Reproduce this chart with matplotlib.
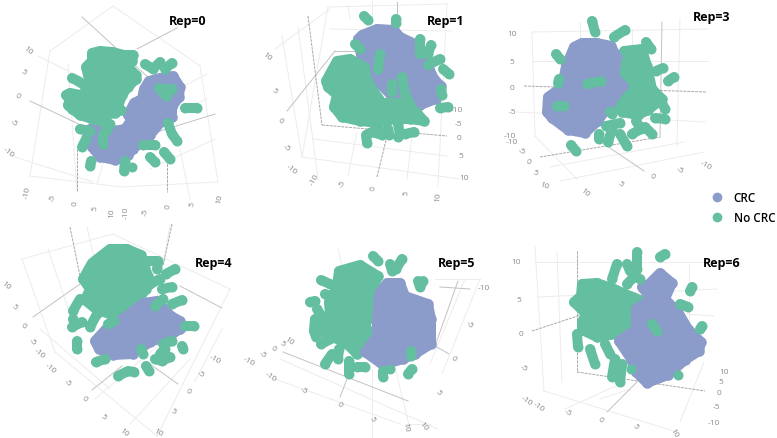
import matplotlib
matplotlib.use('Agg')
import matplotlib.pyplot as plt

CRC_COL = '#8c9cca'
NO_COL = '#64bfa0'
LIGHT = '#ececec'
DARK = '#c2c2c2'
DASH = '#a8a8a8'
TICK = '#8a8a8a'

# all positions, in picture pixels
rep0_crc = [(160,79),(173,77),(180,88),(179,98),(172,108),(172,118),(162,122),(150,136),(133,150),(128,156),(115,161),(100,158),(92,148),(87,138),(90,130),(103,130),(113,132),(125,130),(132,120),(128,116),(134,104),(142,100),(144,90),(149,82)]
rep0_no = [(92,54),(100,52),(112,53),(124,56),(133,56),(132,62),(128,68),(136,76),(136,80),(128,88),(122,96),(118,108),(121,111),(115,114),(106,116),(104,123),(92,120),(80,116),(72,110),(68,106),(70,100),(66,96),(70,94),(80,96),(88,92),(90,84),(88,76),(86,68),(92,62)]
rep0_strays = [[(72,79),(78,82),(84,86),(89,88)],[(145,65),(153,70),(160,63)],[(165,70),(172,64)],[(159,89),(166,97),(172,90),(166,90)],[(185,109),(197,109)],[(168,124),(172,135),(177,142)],[(143,146),(155,146)],[(164,153),(170,160)],[(150,158),(155,163)],[(103,135),(103,145)],[(80,130),(90,132)],[(82,148),(86,140)],[(91,162),(90,167)],[(125,162),(124,172)],[(132,168)],[(110,125),(106,132)]]
rep0_grid = [(50,52,113,7),(113,7,200,67),(50,52,30,177),(30,177,122,188),(122,188,217,183),(200,67,218,183),(68,65,77,192),(38,57,80,78),(12,157,93,183),(207,75,178,90),(207,100,182,110),(215,140,150,170),(97,185,112,135),(190,200,180,150)]
rep0_dark = [(82,18,150,80),(30,102,83,127),(137,50,177,29),(157,133,215,115)]
rep0_dash = [(77,150,77,192),(167,153,167,193)]
rep0_ticks = [('10',28,51,-40),('5',23,72,-40),('0',17,96,-40),('-5',13,123,-40),('-10',8,153,-40),('-10',27,193,80),('-5',53,198,80),('0',75,204,85),('5',95,209,85),('10',112,213,88),('-10',126,213,90),('-5',145,212,85),('0',168,207,85),('5',192,204,80),('10',220,199,80)]

rep1_crc = [(362,36),(377,30),(394,31),(400,38),(415,45),(425,60),(434,80),(441,87),(436,100),(420,106),(406,105),(390,95),(375,80),(362,62),(358,40)]
rep1_no = [(326,82),(337,62),(350,60),(364,68),(368,84),(382,104),(405,104),(417,114),(424,122),(410,120),(395,120),(378,124),(360,122),(342,118),(334,108),(337,96),(328,88)]
rep1_strays = [[(364,17),(368,21)],[(396,20),(396,24)],[(355,45),(360,50)],[(380,55),(378,70)],[(420,40),(420,55)],[(431,46),(428,55)],[(428,66),(440,60)],[(443,70),(449,75)],[(441,90),(442,96)],[(440,109),(448,108)],[(392,85),(392,93)],[(402,78),(405,95),(410,105)],[(367,144),(366,136),(372,133),(382,136)],[(388,130),(389,136)],[(398,125),(400,135),(398,138)],[(405,135),(414,133)],[(375,125),(378,128)]]
rep1_grid = [(328,8,447,5),(328,8,302,158),(302,158,460,180),(282,37,302,158),(313,140,447,157),(275,50,330,10),(330,30,452,32),(372,2,372,20),(348,7,350,20),(447,5,438,187),(298,28,318,180),(407,180,412,137),(348,177,357,133)]
rep1_dark = [(335,52,367,52),(287,112,335,52),(397,3,397,23)]
rep1_dash = [(308,17,322,126),(322,126,447,137),(377,178,387,137)]
rep1_ticks = [('10',267,57,-40),('5',274,91,-40),('0',280,121,-40),('-5',286,148,-40),('-10',291,170,-40),('-10',314,180,60),('-5',343,184,70),('0',374,188,80),('5',406,193,80),('10',438,197,85),('-10',457,111,0),('-5',458,124,0),('0',459,139,0),('5',461,157,0),('10',464,178,0)]

rep3_crc = [(574,48),(582,44),(597,44),(611,47),(617,58),(614,77),(623,87),(611,103),(598,122),(585,134),(568,131),(552,119),(547,113),(548,98),(562,88),(566,67)]
rep3_no = [(624,52),(642,50),(647,67),(652,90),(662,100),(648,111),(638,116),(622,113),(616,107),(622,87),(619,77)]
rep3_strays = [[(592,22),(595,33)],[(614,38),(625,31)],[(646,43),(651,50)],[(656,72),(663,69)],[(668,82),(674,78)],[(556,55),(560,60)],[(559,80),(558,84)],[(587,85),(601,82)],[(557,107),(564,107)],[(610,113),(612,115)],[(655,119),(665,120)],[(660,100),(665,110)],[(636,122),(641,130),(632,135)],[(645,128),(652,135)],[(599,135),(599,140)],[(606,127),(620,124)],[(612,130),(608,143)],[(620,135),(627,147)],[(571,146),(576,152)]]
rep3_grid = [(532,33,708,30),(532,62,708,62),(580,23,580,40),(632,30,632,47),(680,20,677,147),(517,113,705,123),(532,33,535,137),(535,137,577,180),(560,182,704,153),(550,168,684,143)]
rep3_dark = [(662,23,660,138),(607,147,644,172)]
rep3_dash = [(524,87,707,93),(540,158,660,138)]
rep3_ticks = [('10',512,35,0),('5',512,62,0),('0',512,88,0),('-5',512,113,0),('-10',510,137,0),('-10',512,143,0),('-5',522,152,-20),('0',528,162,-20),('5',535,173,-20),('10',544,186,-20),('10',585,193,-40),('5',620,184,-40),('0',652,177,-30),('-5',680,171,-30),('-10',706,166,-30)]

rep4_crc = [(95,342),(107,329),(127,317),(143,304),(157,302),(171,317),(180,322),(180,330),(171,336),(150,343),(133,355),(113,356),(99,350)]
rep4_no = [(83,280),(92,264),(110,250),(127,250),(141,256),(148,277),(146,290),(138,301),(123,313),(110,315),(97,311),(85,301),(90,290)]
rep4_strays = [[(148,262),(158,262),(157,270)],[(166,275),(175,270)],[(150,285),(160,280)],[(162,290),(172,288)],[(172,305),(182,301)],[(155,307),(163,300)],[(185,327),(194,327)],[(182,347),(183,350)],[(108,325),(114,322)],[(72,328),(82,323)],[(75,325),(73,320)],[(80,300),(73,312)],[(90,328),(97,315)],[(77,342),(77,350)],[(96,363),(105,360)],[(118,377),(128,372),(134,373)],[(146,367),(149,372)],[(155,360),(162,362),(170,358)],[(163,345),(172,342)],[(141,350),(143,355)],[(160,355),(165,350)]]
rep4_grid = [(113,235,22,260),(113,235,230,290),(22,260,55,353),(55,353,157,437),(157,437,230,290),(48,250,80,345),(87,228,115,350),(170,226,150,340),(195,382,222,330),(130,425,190,360),(95,400,160,345),(40,330,110,390)]
rep4_dark = [(33,318,80,285),(180,287,222,309),(92,391,122,367),(147,363,178,385)]
rep4_dash = [(70,228,80,277),(172,225,163,267)]
rep4_ticks = [('10',6,286,-40),('5',14,307,-40),('0',23,326,-40),('-5',32,342,-40),('-10',39,354,-40),('-10',50,369,-40),('-5',67,383,-40),('0',84,399,-40),('5',103,417,-40),('10',124,433,-40),('10',158,433,-30),('5',173,412,-30),('0',188,392,-30),('-5',201,375,-30),('-10',215,360,-30),('-10',249,362,-30)]

rep5_crc = [(379,295),(387,284),(400,284),(405,297),(428,305),(431,320),(431,345),(415,355),(403,360),(383,366),(365,353),(377,337),(377,320)]
rep5_no = [(339,272),(360,266),(378,277),(371,297),(370,317),(365,327),(373,337),(365,345),(357,355),(347,345),(327,335),(314,331),(315,320),(330,317),(329,303),(337,287)]
rep5_strays = [[(373,257),(378,262)],[(390,265),(392,272)],[(402,260),(396,270)],[(418,282),(420,288),(423,282)],[(321,281),(330,285)],[(310,303),(315,302)],[(325,295),(332,298)],[(317,310),(322,318)],[(314,332),(316,338)],[(321,345),(335,338)],[(325,365),(332,355)],[(338,360),(339,350)],[(349,362),(349,375)],[(357,368),(365,368)],[(383,372),(383,378)],[(390,370)],[(408,375),(412,370)],[(411,357),(411,352)]]
rep5_grid = [(338,250,350,300),(280,360,438,430),(275,380,400,425),(435,280,480,280),(480,280,442,375),(395,368,410,430),(372,370,372,440),(465,280,430,365),(405,425,430,425)]
rep5_dark = [(283,353,408,402),(458,282,435,347),(435,347,449,355),(340,398,347,380),(440,288,470,290)]
rep5_dash = []
rep5_ticks = [('-10',271,377,-35),('-5',263,355,-35),('0',273,349,-35),('5',282,344,-35),('10',289,341,-35),('-5',304,391,-35),('0',339,405,-50),('5',372,419,-60),('10',406,427,-80),('10',423,427,-50),('5',438,393,-50),('0',453,359,-50),('-5',469,325,-50),('-10',484,289,0)]

rep6_crc = [(649,285),(660,274),(672,284),(665,300),(678,313),(688,330),(701,343),(699,352),(685,361),(668,376),(647,384),(636,373),(631,360),(619,342),(636,330),(636,310),(651,300),(642,288)]
rep6_no = [(582,285),(597,284),(614,290),(630,297),(643,302),(632,310),(632,323),(617,335),(597,338),(582,331),(582,323),(586,315),(574,303),(581,297)]
rep6_strays = [[(637,253),(637,270)],[(660,258),(665,255)],[(627,265),(630,272)],[(617,265),(612,280)],[(627,285),(635,277),(640,280)],[(690,292),(692,288)],[(680,305),(688,308)],[(700,330),(702,327)],[(652,325),(657,332)],[(577,335),(578,348)],[(590,350),(595,365)],[(605,345),(610,355)],[(615,360),(612,378)],[(622,365),(620,383)],[(631,370)],[(678,376)]]
rep6_grid = [(535,248,544,392),(535,263,717,263),(717,290,537,298),(714,317,660,313),(544,392,677,433),(704,363,680,423),(557,253,562,383),(689,265,689,367),(600,400,630,390),(565,410,620,385)]
rep6_dark = [(607,413,637,383)]
rep6_dash = [(532,332,584,315),(577,252,577,373),(577,373,705,392)]
rep6_ticks = [('10',516,263,0),('5',519,300,0),('0',521,335,0),('-5',524,369,-30),('-10',527,401,-35),('-10',539,407,-35),('-5',568,413,-35),('0',600,420,-40),('5',635,427,-50),('10',674,433,-60),('10',724,373,0),('5',721,383,0),('0',719,394,0),('-5',716,408,0),('-10',714,424,0)]

rep_labels = ['Rep=0', 'Rep=1', 'Rep=3', 'Rep=4', 'Rep=5', 'Rep=6']
rep_label_pos = [(188,21),(446,21),(712,18),(214,263),(457,263),(722,263)]
legend_labels = ['CRC', 'No CRC']

plt.rcParams['font.family'] = ['Open Sans', 'DejaVu Sans']

fig = plt.figure(figsize=(7.77, 4.39), dpi=100)


def draw_panel(box, crc, no, strays, grid, dark, dash, ticks, label, label_pos, crc_first):
    x0, y0, x1, y1 = box
    ax = fig.add_axes([x0 / 777, 1 - y1 / 439, (x1 - x0) / 777, (y1 - y0) / 439])
    ax.set_xlim(x0, x1)
    ax.set_ylim(y1, y0)
    ax.axis('off')

    for s in grid:
        ax.plot([s[0], s[2]], [s[1], s[3]], color=LIGHT, lw=0.7, clip_on=False, zorder=1)
    for s in dark:
        ax.plot([s[0], s[2]], [s[1], s[3]], color=DARK, lw=0.7, clip_on=False, zorder=1)
    for s in dash:
        ax.plot([s[0], s[2]], [s[1], s[3]], color=DASH, lw=0.7, ls=(0, (3, 1)), clip_on=False, zorder=1)
    for t in ticks:
        ax.text(t[1], t[2], t[0], rotation=t[3], color=TICK, fontsize=6, ha='center', va='center', zorder=1)

    blobs = [(crc, CRC_COL), (no, NO_COL)]
    if not crc_first:
        blobs = blobs[::-1]
    z = 2
    for pts, col in blobs:
        xs = [p[0] for p in pts]
        ys = [p[1] for p in pts]
        ax.fill(xs, ys, facecolor=col, edgecolor=col, lw=7.2, joinstyle='round', clip_on=False, zorder=z)
        ax.scatter(xs, ys, s=58, color=col, lw=0, clip_on=False, zorder=z)
        z += 1
    for stroke in strays:
        ax.plot([p[0] for p in stroke], [p[1] for p in stroke], color=NO_COL, lw=7.2,
                marker='o', ms=7.2, mew=0, solid_capstyle='round', clip_on=False, zorder=4)

    ax.text(label_pos[0], label_pos[1], label, fontsize=9, fontweight='bold', color='black',
            ha='center', va='center', zorder=5)


draw_panel((0,0,260,220), rep0_crc, rep0_no, rep0_strays, rep0_grid, rep0_dark, rep0_dash, rep0_ticks, rep_labels[0], rep_label_pos[0], True)
draw_panel((260,0,517,220), rep1_crc, rep1_no, rep1_strays, rep1_grid, rep1_dark, rep1_dash, rep1_ticks, rep_labels[1], rep_label_pos[1], True)
draw_panel((517,0,777,220), rep3_crc, rep3_no, rep3_strays, rep3_grid, rep3_dark, rep3_dash, rep3_ticks, rep_labels[2], rep_label_pos[2], False)
draw_panel((0,220,260,439), rep4_crc, rep4_no, rep4_strays, rep4_grid, rep4_dark, rep4_dash, rep4_ticks, rep_labels[3], rep_label_pos[3], False)
draw_panel((260,220,517,439), rep5_crc, rep5_no, rep5_strays, rep5_grid, rep5_dark, rep5_dash, rep5_ticks, rep_labels[4], rep_label_pos[4], False)
draw_panel((517,220,777,439), rep6_crc, rep6_no, rep6_strays, rep6_grid, rep6_dark, rep6_dash, rep6_ticks, rep_labels[5], rep_label_pos[5], False)

handles = [plt.Line2D([], [], ls='', marker='o', ms=7, mew=0, color=CRC_COL),
           plt.Line2D([], [], ls='', marker='o', ms=7, mew=0, color=NO_COL)]
leg = fig.legend(handles, legend_labels, loc='center left', bbox_to_anchor=(705 / 777, 1 - 209 / 439),
                 frameon=False, fontsize=8.4, labelspacing=0.6, handletextpad=0.45, borderpad=0, borderaxespad=0)
for txt in leg.get_texts():
    txt.set_fontweight('semibold')

fig.savefig('out.png', dpi=100)
